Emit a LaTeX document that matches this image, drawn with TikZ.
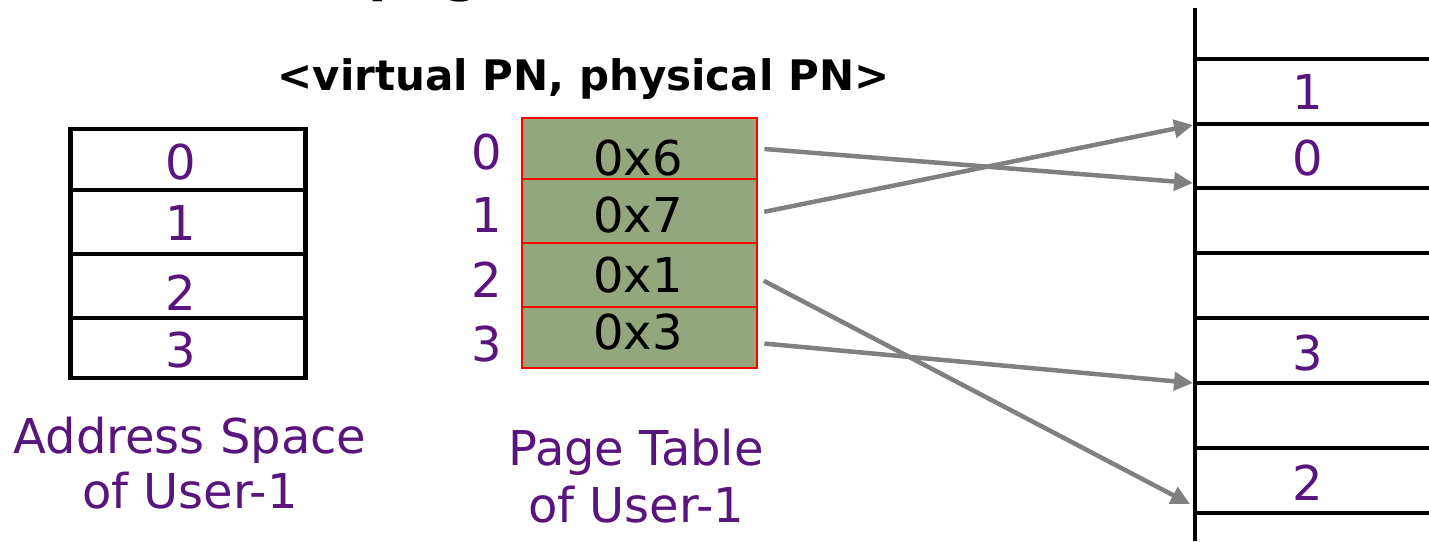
\documentclass[tikz,border=0pt]{standalone}
\usepackage{fontspec}
\setmainfont{DejaVu Sans}
\usetikzlibrary{arrows.meta}
\definecolor{ink}{RGB}{90,20,125}
\definecolor{ptfill}{RGB}{147,166,125}
\definecolor{linkgray}{RGB}{128,128,128}
\begin{document}
\begin{tikzpicture}[x=1pt,y=-1pt,
  big/.style={font=\fontsize{48}{56}\selectfont},
  num/.style={big,text=ink,inner sep=0pt},
  hex/.style={big,text=black,inner sep=0pt},
  caption/.style={big,text=ink,align=center,anchor=base,inner sep=0pt},
  ascell/.style={draw=black,line width=4.5pt,minimum width=235pt,inner sep=0pt},
  ptcell/.style={draw=red,fill=ptfill,line width=2.8pt,minimum width=235pt,inner sep=0pt},
  memline/.style={line width=4.5pt,black},
  link/.style={draw=linkgray,line width=4.5pt,shorten <=6pt,-{Triangle[length=19pt,width=18pt]}}
]
\useasboundingbox (0,0) rectangle (1429,541);

% heading (runs off the top edge) and tuple caption
\node[font=\bfseries\fontsize{54}{60}\selectfont,anchor=base west,inner sep=0pt] (heading) at (368,-10) {page};
\node[font=\bfseries\fontsize{42}{50}\selectfont,anchor=base,inner sep=0pt] (tuple) at (583.5,90) {<virtual PN, physical PN>};

% address space of user 1
\node[ascell,minimum height=61pt] (as0) at (188,159.5) {};
\node[ascell,minimum height=64pt] (as1) at (188,222) {};
\node[ascell,minimum height=64pt] (as2) at (188,286) {};
\node[ascell,minimum height=60pt] (as3) at (188,348) {};
\node[num] (asl0) at (181,162) {0};
\node[num] (asl1) at (181,223) {1};
\node[num] (asl2) at (181,293) {2};
\node[num] (asl3) at (181,350) {3};
% the base anchor sits on the last line of the caption
\node[caption,font=\fontsize{48}{55}\selectfont] (ascap) at (190,508) {Address Space\\of User-1};

% page table of user 1
\node[ptcell,minimum height=61pt] (pt0) at (639.5,148.5) {};
\node[ptcell,minimum height=64pt] (pt1) at (639.5,211) {};
\node[ptcell,minimum height=64pt] (pt2) at (639.5,275) {};
\node[ptcell,minimum height=61pt] (pt3) at (639.5,337.5) {};
\node[hex] (v0) at (638,158) {0x6};
\node[hex] (v1) at (638,215) {0x7};
\node[hex] (v2) at (638,275) {0x1};
\node[hex] (v3) at (638,332) {0x3};
\node[num] (i0) at (487,152) {0};
\node[num] (i1) at (487,215) {1};
\node[num] (i2) at (487,280) {2};
\node[num] (i3) at (487,344) {3};
\node[caption,font=\fontsize{48}{57}\selectfont] (ptcap) at (636,522) {Page Table\\of User-1};

% physical memory frames
\draw[memline] (1195,8) -- (1195,541);
\foreach \y in {59,124,188,253,318,383,448,513}
  \draw[memline] (1195,\y) -- (1429,\y);
\node[num] (f1) at (1308,92) {1};
\node[num] (f0) at (1308,158) {0};
\node[num] (f3) at (1308,353) {3};
\node[num] (f2) at (1308,483) {2};

% arrow targets on the memory edge
\coordinate (m7) at (1193,125);
\coordinate (m6) at (1193,183);
\coordinate (m3) at (1193,383);
\coordinate (m1) at (1190,504);

% translations
\draw[link] (pt0.east) -- (m6);
\draw[link] ([yshift=-2pt]pt1.east) -- (m7);
\draw[link] ([yshift=-3pt]pt2.east) -- (m1);
\draw[link] ([yshift=-5.5pt]pt3.east) -- (m3);
\end{tikzpicture}
\end{document}
